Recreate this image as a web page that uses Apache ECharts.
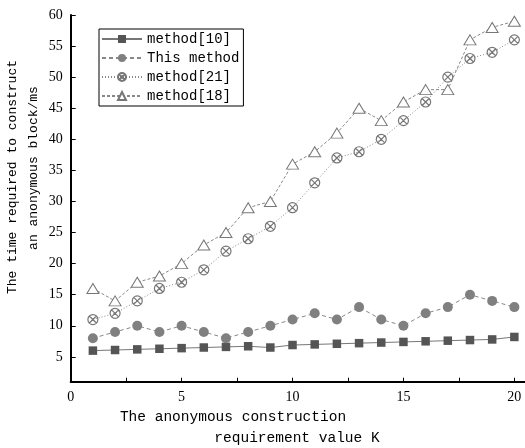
<!DOCTYPE html>
<html>
<head>
<meta charset="utf-8">
<script src="https://cdn.jsdelivr.net/npm/echarts@6/dist/echarts.min.js"></script>
<style>
  html, body { margin: 0; padding: 0; background: #fff; }
  #chart { width: 525px; height: 448px; }
</style>
</head>
<body>
<div id="chart"></div>
<script>
// Anonymous construction requirement K
const kValues = [1, 2, 3, 4, 5, 6, 7, 8, 9, 10, 11, 12, 13, 14, 15, 16, 17, 18, 19, 20];

// Time to construct an anonymous block (ms)
const method10   = [6.0, 6.1, 6.2, 6.3, 6.4, 6.5, 6.6, 6.7, 6.5, 6.9, 7.0, 7.1, 7.2, 7.3, 7.4, 7.5, 7.6, 7.7, 7.8, 8.2];
const thisMethod = [8, 9, 10, 9, 10, 9, 8, 9, 10, 11, 12, 11, 13, 11, 10, 12, 13, 15, 14, 13];
const method21   = [11, 12, 14, 16, 17, 19, 22, 24, 26, 29, 33, 37, 38, 40, 43, 46, 50, 53, 54, 56];
const method18   = [16, 14, 17, 18, 20, 23, 25, 29, 30, 36, 38, 41, 45, 43, 46, 48, 48, 56, 58, 59];

const seriesNames = ['method[10]', 'This method', 'method[21]', 'method[18]'];

const xTickLabels = [0, 5, 10, 15, 20];
const xTickMarks  = [0, 2.5, 5, 7.5, 10, 12.5, 15, 17.5, 20];
const yTickLabels = [5, 10, 15, 20, 25, 30, 35, 40, 45, 50, 55, 60];

const pair = arr => arr.map((v, i) => [kValues[i], v]);

const monoFont = '"Liberation Mono", "DejaVu Sans Mono", monospace';
const digitFont = '"Liberation Serif", "DejaVu Serif", serif';

// circle with a diagonal cross
const crossCircle = 'path://M0,5 A5,5 0 1,1 10,5 A5,5 0 1,1 0,5 Z M1.5,1.5 L8.5,8.5 M8.5,1.5 L1.5,8.5';

const chart = echarts.init(document.getElementById('chart'), null, { renderer: 'canvas' });

chart.setOption({
  animation: false,
  backgroundColor: '#fff',
  grid: { left: 70.7, right: 0, top: 15, bottom: 66.3, containLabel: false },
  xAxis: {
    type: 'value',
    min: 0,
    max: 20.48,
    splitLine: { show: false },
    axisLine: { show: true, onZero: false, lineStyle: { color: '#000', width: 2 } },
    axisTick: { show: true, inside: true, length: 4, customValues: xTickMarks, lineStyle: { color: '#000', width: 1 } },
    axisLabel: { customValues: xTickLabels, color: '#000', fontFamily: digitFont, fontSize: 14, margin: 9 }
  },
  yAxis: {
    type: 'value',
    min: 1,
    max: 60,
    splitLine: { show: false },
    axisLine: { show: true, onZero: false, lineStyle: { color: '#000', width: 2 } },
    axisTick: { show: true, inside: true, length: 5, customValues: yTickLabels, lineStyle: { color: '#000', width: 1 } },
    axisLabel: { customValues: yTickLabels, color: '#000', fontFamily: digitFont, fontSize: 14, margin: 8 }
  },
  legend: {
    left: 99,
    top: 29,
    orient: 'vertical',
    data: seriesNames,
    itemWidth: 40,
    itemHeight: 10,
    itemGap: 5,
    padding: [3, 4, 3, 2],
    borderColor: '#000',
    borderWidth: 1,
    textStyle: { fontFamily: monoFont, fontSize: 14, color: '#000' }
  },
  series: [
    {
      name: seriesNames[0],
      type: 'line',
      data: pair(method10),
      symbol: 'rect',
      symbolSize: 8.5,
      lineStyle: { color: '#777', width: 1, type: 'solid' },
      itemStyle: { color: '#555' }
    },
    {
      name: seriesNames[1],
      type: 'line',
      data: pair(thisMethod),
      symbol: 'circle',
      symbolSize: 10,
      lineStyle: { color: '#888', width: 1, type: [4, 3] },
      itemStyle: { color: '#808080' }
    },
    {
      name: seriesNames[2],
      type: 'line',
      data: pair(method21),
      symbol: crossCircle,
      symbolSize: 10,
      lineStyle: { color: '#888', width: 1, type: [1, 2] },
      itemStyle: { color: 'rgba(255,255,255,0)', borderColor: '#777', borderWidth: 1.2 }
    },
    {
      name: seriesNames[3],
      type: 'line',
      data: pair(method18),
      symbol: 'triangle',
      symbolSize: [12, 10],
      lineStyle: { color: '#888', width: 1, type: [3, 2] },
      itemStyle: { color: '#fff', borderColor: '#777', borderWidth: 1 }
    }
  ],
  graphic: [
    {
      type: 'text',
      x: 13, y: 177,
      rotation: Math.PI / 2,
      style: { text: 'The time required to construct', font: '13px ' + monoFont, fill: '#000', align: 'center', verticalAlign: 'middle' }
    },
    {
      type: 'text',
      x: 34, y: 168,
      rotation: Math.PI / 2,
      style: { text: 'an anonymous block/ms', font: '13px ' + monoFont, fill: '#000', align: 'center', verticalAlign: 'middle' }
    },
    {
      type: 'text',
      x: 233, y: 417,
      style: { text: 'The anonymous construction', font: '14.5px ' + monoFont, fill: '#000', align: 'center', verticalAlign: 'middle' }
    },
    {
      type: 'text',
      x: 297, y: 438,
      style: { text: 'requirement value K', font: '14.5px ' + monoFont, fill: '#000', align: 'center', verticalAlign: 'middle' }
    }
  ]
});
</script>
</body>
</html>
